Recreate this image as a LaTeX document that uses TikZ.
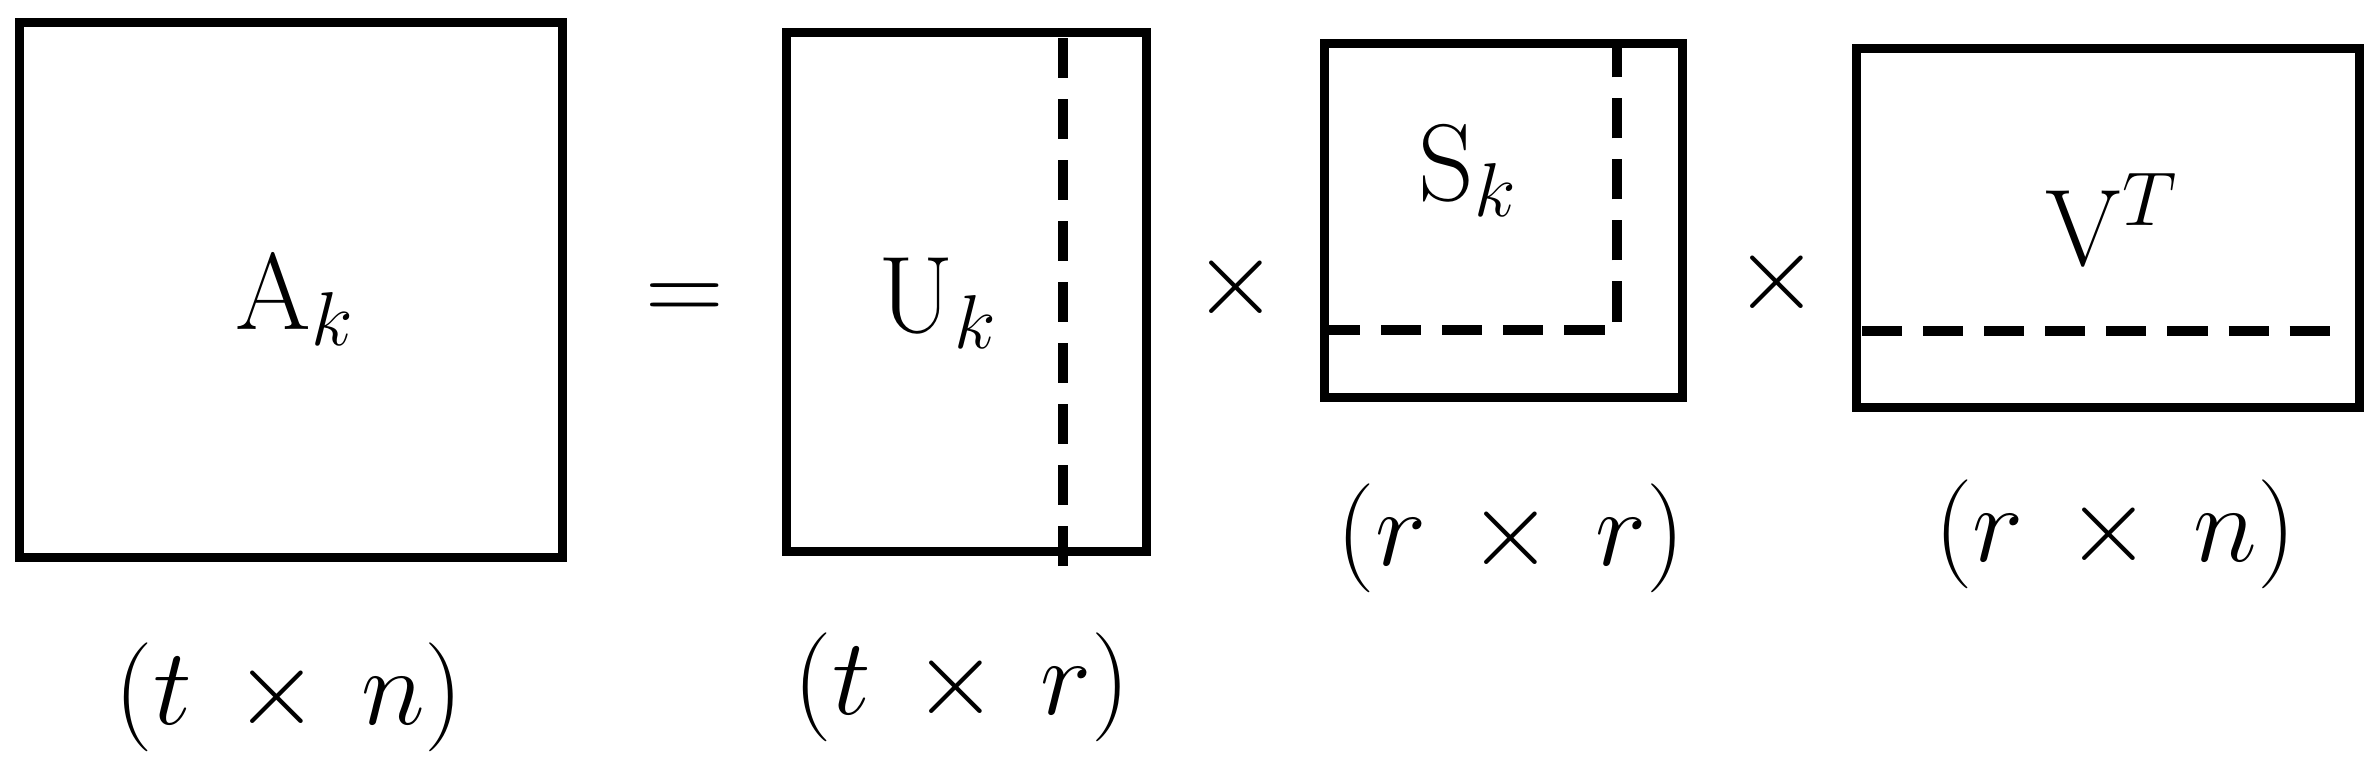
\documentclass[tikz,border=0pt]{standalone}
\usepackage{fix-cm}
\usepackage{amsmath}
\usepackage{amssymb}

\begin{document}
\begin{tikzpicture}[x=0.01cm, y=-0.01cm, mat/.style={rectangle, draw, line width=2.6pt, inner sep=0pt}, cut/.style={line width=2.6pt, dash pattern=on 0.4cm off 0.21cm}, lbl/.style={font=\fontsize{31}{36}\selectfont, inner sep=0pt}]

  \useasboundingbox (0,0) rectangle (2378,775);

  % the four matrices
  \node[mat, minimum width=5.42cm, minimum height=5.34cm] (A) at (291,290) {};
  \node[mat, minimum width=3.59cm, minimum height=5.18cm] (U) at (966.5,292) {};
  \node[mat, minimum width=3.57cm, minimum height=3.53cm] (S) at (1503.5,220.5) {};
  \node[mat, minimum width=5.02cm, minimum height=3.58cm] (V) at (2108,228) {};

  \node[lbl, anchor=base] (Ak) at (295,329) {$\mathrm{A}_k$};
  \node[lbl, anchor=base] (Uk) at (938,332) {$\mathrm{U}_k$};
  \node[lbl, anchor=base] (Sk) at (1468,200) {$\mathrm{S}_k$};
  \node[lbl, anchor=base] (VT) at (2112,265) {$\mathrm{V}^T$};

  \node[lbl] (eq) at (685,303) {$=$};
  \node[lbl] (times1) at (1236,287) {$\times$};
  \node[lbl] (times2) at (1777,282) {$\times$};

  % sizes
  \node[lbl] (dimA) at (289,697) {$(t\mkern3mu\times\mkern3mu n)$};
  \node[lbl] (dimU) at (962,687) {$(t\mkern3mu\times\mkern3mu r)$};
  \node[lbl] (dimS) at (1511,538) {$(r\mkern3mu\times\mkern3mu r)$};
  \node[lbl] (dimV) at (2115,534) {$(r\mkern3mu\times\mkern3mu n)$};

  % truncation
  \coordinate (ucut) at (1063,566);
  \coordinate (scorner) at (1617,330);
  \coordinate (vcut) at (0,331);
  \draw[cut] (ucut) -- (ucut |- U.north);
  \draw[cut] (scorner -| S.west) -- (scorner) -- (scorner |- S.north);
  \draw[cut, shorten <=0.1cm, shorten >=0.2cm] (vcut -| V.west) -- (vcut -| V.east);
\end{tikzpicture}
\end{document}
